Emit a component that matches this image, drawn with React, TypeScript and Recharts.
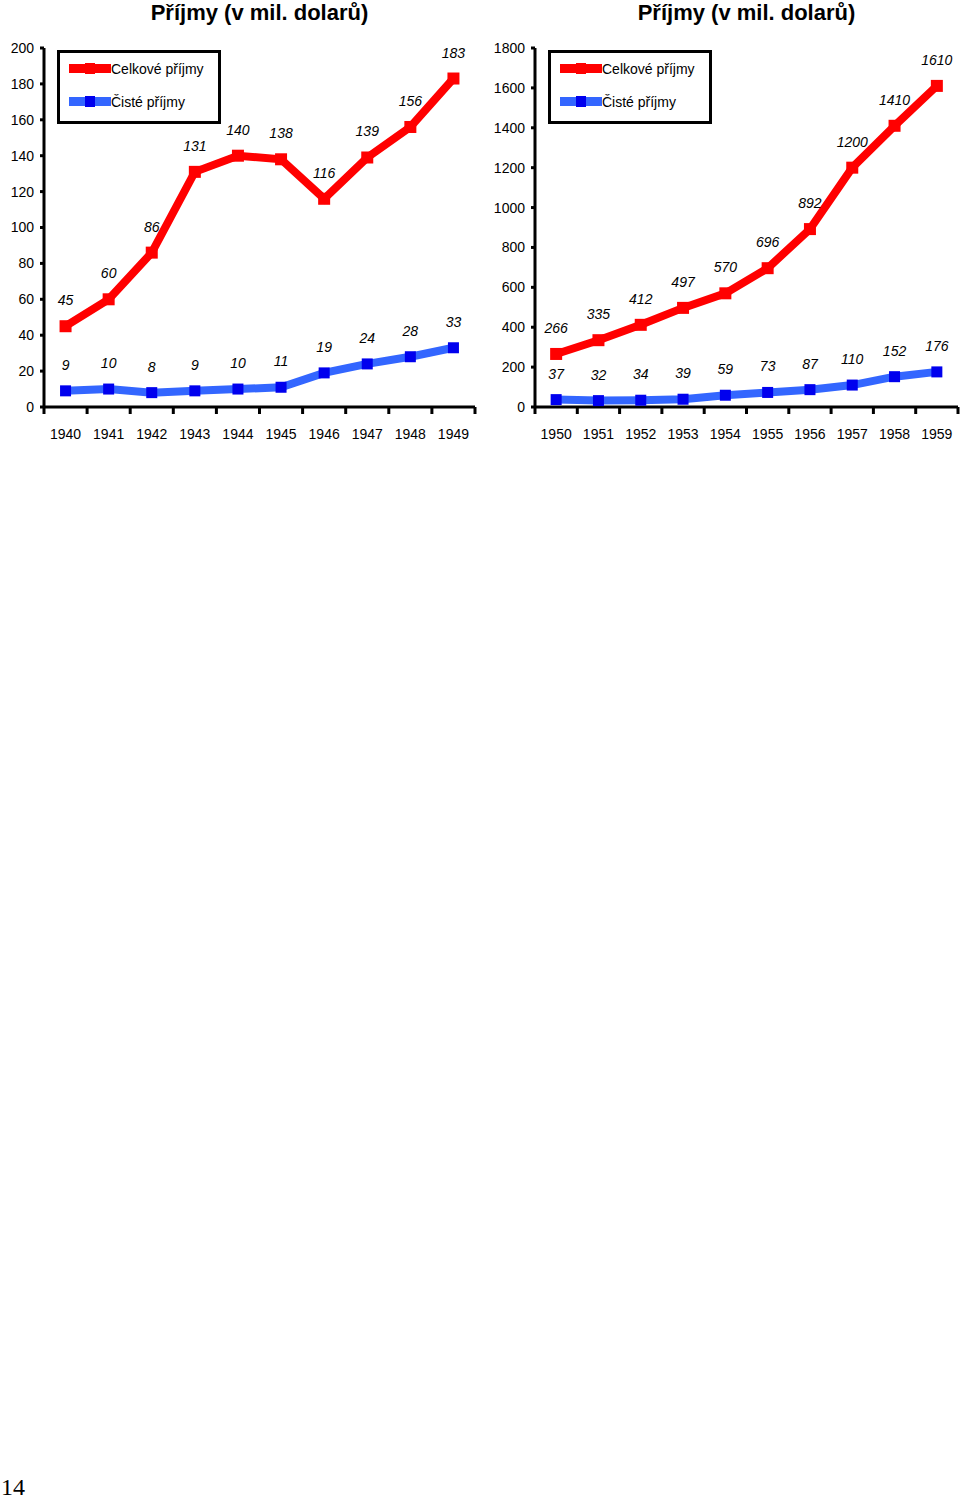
import React from "react";
import { LineChart, Line, XAxis, YAxis, LabelList } from "recharts";

const years40 = ["1940", "1941", "1942", "1943", "1944", "1945", "1946", "1947", "1948", "1949"];
const total40 = [45, 60, 86, 131, 140, 138, 116, 139, 156, 183];
const net40 = [9, 10, 8, 9, 10, 11, 19, 24, 28, 33];
const ticks40 = [0, 20, 40, 60, 80, 100, 120, 140, 160, 180, 200];

const years50 = ["1950", "1951", "1952", "1953", "1954", "1955", "1956", "1957", "1958", "1959"];
const total50 = [266, 335, 412, 497, 570, 696, 892, 1200, 1410, 1610];
const net50 = [37, 32, 34, 39, 59, 73, 87, 110, 152, 176];
const ticks50 = [0, 200, 400, 600, 800, 1000, 1200, 1400, 1600, 1800];

const TITLE = "Příjmy (v mil. dolarů)";
const TOTAL_NAME = "Celkové příjmy";
const NET_NAME = "Čisté příjmy";

const RED = "#FF0000";
const BLUE = "#3366FF";
const DARK_BLUE = "#0000EE";
const FONT = "Arial, 'Liberation Sans', sans-serif";

const CHART_H = 450;
const TOP = 48;
const AXIS_Y = 407;

const SquareDot = ({ cx, cy, size, color }: any) => {
  if (cx == null || cy == null) return null;
  return <rect x={cx - size / 2} y={cy - size / 2} width={size} height={size} fill={color} />;
};

const ValueLabel = ({ x, y, value }: any) => (
  <text
    x={x}
    y={y - 21}
    textAnchor="middle"
    fontFamily={FONT}
    fontStyle="italic"
    fontSize={14}
    fill="#000"
  >
    {value}
  </text>
);

// legend drawn as an overlay so it doesn't shrink the plot area
const LegendBox = ({ left }: any) => (
  <div
    style={{
      position: "absolute",
      left,
      top: 50,
      width: 158,
      height: 68,
      border: "3px solid #000",
      background: "#fff",
      fontFamily: FONT,
      fontSize: 14,
    }}
  >
    {[
      { name: TOTAL_NAME, line: RED, dot: RED, top: 16 },
      { name: NET_NAME, line: BLUE, dot: DARK_BLUE, top: 49 },
    ].map((it) => (
      <div key={it.name} style={{ position: "absolute", left: 9, top: it.top - 11, height: 22, display: "flex", alignItems: "center" }}>
        <svg width={42} height={12} style={{ display: "block" }}>
          <rect x={0} y={1} width={42} height={9} fill={it.line} />
          <rect x={16} y={0} width={10} height={11} fill={it.dot} />
        </svg>
        <span style={{ color: "#000" }}>{it.name}</span>
      </div>
    ))}
  </div>
);

const Panel = ({ left, width, yAxisW, years, total, net, ticks, max, legendLeft }: any) => {
  const rightMargin = 480 - width;
  const plotW = 480 - yAxisW - rightMargin;
  const half = plotW / 20;
  const data = years.map((y: string, i: number) => ({ year: y, total: total[i], net: net[i] }));

  const XTick = ({ x, payload, index }: any) => (
    <g>
      <line x1={x - half} x2={x - half} y1={AXIS_Y} y2={AXIS_Y + 7} stroke="#000" strokeWidth={3} />
      {index === years.length - 1 && (
        <line x1={x + half} x2={x + half} y1={AXIS_Y} y2={AXIS_Y + 7} stroke="#000" strokeWidth={3} />
      )}
      <text x={x} y={439} textAnchor="middle" fontFamily={FONT} fontSize={14} fill="#000">
        {payload.value}
      </text>
    </g>
  );

  return (
    <div style={{ position: "absolute", left, top: 0, width: 480, height: CHART_H }}>
      <LineChart
        width={480}
        height={CHART_H}
        data={data}
        margin={{ top: TOP, right: rightMargin, left: 0, bottom: 13 }}
      >
        <XAxis
          dataKey="year"
          padding={{ left: half, right: half }}
          axisLine={{ stroke: "#000", strokeWidth: 3 }}
          tickLine={false}
          tick={<XTick />}
          interval={0}
          height={30}
        />
        <YAxis
          width={yAxisW}
          domain={[0, max]}
          ticks={ticks}
          interval={0}
          axisLine={{ stroke: "#000", strokeWidth: 3 }}
          tickLine={{ stroke: "#000", strokeWidth: 3 }}
          tickSize={4}
          tickMargin={6}
          tick={{ fontFamily: FONT, fontSize: 14, fill: "#000" }}
        />
        <Line
          dataKey="total"
          name={TOTAL_NAME}
          stroke={RED}
          strokeWidth={8}
          dot={(p: any) => <SquareDot key={"t" + p.index} cx={p.cx} cy={p.cy} size={12} color={RED} />}
          isAnimationActive={false}
        >
          <LabelList dataKey="total" content={<ValueLabel />} />
        </Line>
        <Line
          dataKey="net"
          name={NET_NAME}
          stroke={BLUE}
          strokeWidth={8}
          dot={(p: any) => <SquareDot key={"n" + p.index} cx={p.cx} cy={p.cy} size={11} color={DARK_BLUE} />}
          isAnimationActive={false}
        >
          <LabelList dataKey="net" content={<ValueLabel />} />
        </Line>
      </LineChart>
      <LegendBox left={legendLeft} />
      <div
        style={{
          position: "absolute",
          left: yAxisW,
          width: plotW,
          top: 2,
          lineHeight: "21px",
          textAlign: "center",
          fontFamily: FONT,
          fontWeight: "bold",
          fontSize: 22,
          color: "#000",
        }}
      >
        {TITLE}
      </div>
    </div>
  );
};

export default function App() {
  return (
    <div style={{ position: "absolute", left: 0, top: 0, width: 960, height: 1500, background: "#fff", overflow: "hidden" }}>
      <Panel left={0} width={475} yAxisW={44} years={years40} total={total40} net={net40} ticks={ticks40} max={200} legendLeft={57} />
      <Panel left={480} width={478} yAxisW={55} years={years50} total={total50} net={net50} ticks={ticks50} max={1800} legendLeft={68} />
      <div
        style={{
          position: "absolute",
          left: 1,
          top: 1474,
          fontFamily: "'Liberation Serif', 'DejaVu Serif', serif",
          fontSize: 24,
          color: "#000",
        }}
      >
        14
      </div>
    </div>
  );
}
